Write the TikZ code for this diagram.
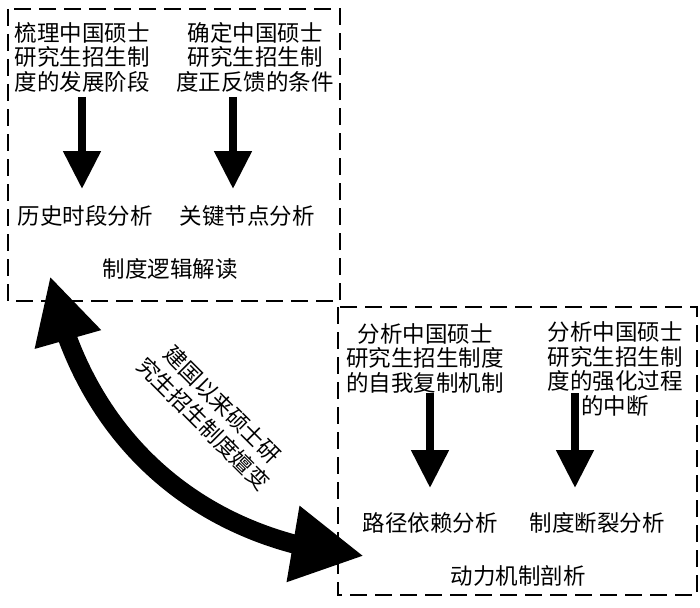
\documentclass[tikz,border=0pt]{standalone}
\usepackage{fontspec}
\setmainfont{Noto Sans CJK SC}
\usetikzlibrary{arrows.meta,bending}
\begin{document}
\begin{tikzpicture}[x=1pt,y=-1pt,
  dbox/.style={draw=black,line width=2.6pt,dash pattern=on 17pt off 8pt},
  txt/.style={inner sep=0pt,align=center,font=\fontsize{22.5}{24.5}\selectfont},
  darrow/.style={line width=8pt,-{Triangle[length=38pt,width=36pt]}},
  bigarrow/.style={line width=19pt,{Triangle[length=66pt,width=64pt]}-{Triangle[length=72pt,width=72pt]}}
]
\useasboundingbox (0,0) rectangle (700,607);
\fill[white] (0,0) rectangle (700,607);
% boxes
\draw[dbox] (8,9) rectangle (340,301);
\draw[dbox] (338,307) rectangle (697,595);
% box 1 texts
\node[txt] (t1) at (82,57) {梳理中国硕士\\研究生招生制\\度的发展阶段};
\node[txt] (t2) at (255,57) {确定中国硕士\\研究生招生制\\度正反馈的条件};
\node[txt] (r1) at (85,216) {历史时段分析};
\node[txt] (r2) at (247,216) {关键节点分析};
\node[txt] (l1) at (170,269) {制度逻辑解读};
% box 2 texts
\node[txt] (t3) at (425,358) {分析中国硕士\\研究生招生制度\\的自我复制机制};
\node[txt] (t4) at (615,369) {分析中国硕士\\研究生招生制\\度的强化过程\\的中断};
\node[txt] (r3) at (430,523) {路径依赖分析};
\node[txt] (r4) at (597,523) {制度断裂分析};
\node[txt] (l2) at (518,576) {动力机制剖析};
% arrow end points
\coordinate (a1s) at (82,97);  \coordinate (a1e) at (82,189);
\coordinate (a2s) at (233,97); \coordinate (a2e) at (233,189);
\coordinate (a3s) at (430,393); \coordinate (a3e) at (430,488);
\coordinate (a4s) at (575,393); \coordinate (a4e) at (575,488);
\draw[darrow] (a1s) -- (a1e);
\draw[darrow] (a2s) -- (a2e);
\draw[darrow] (a3s) -- (a3e);
\draw[darrow] (a4s) -- (a4e);
% big curved double arrow
\coordinate (bA) at (50,276);
\coordinate (bB) at (364,556);
\draw[bigarrow] (bA) to[bend right=37] (bB);
\node[txt,rotate=-45,font=\fontsize{22}{27}\selectfont] (ev) at (213,414) {建国以来硕士研\\究生招生制度嬗变};
\end{tikzpicture}
\end{document}
